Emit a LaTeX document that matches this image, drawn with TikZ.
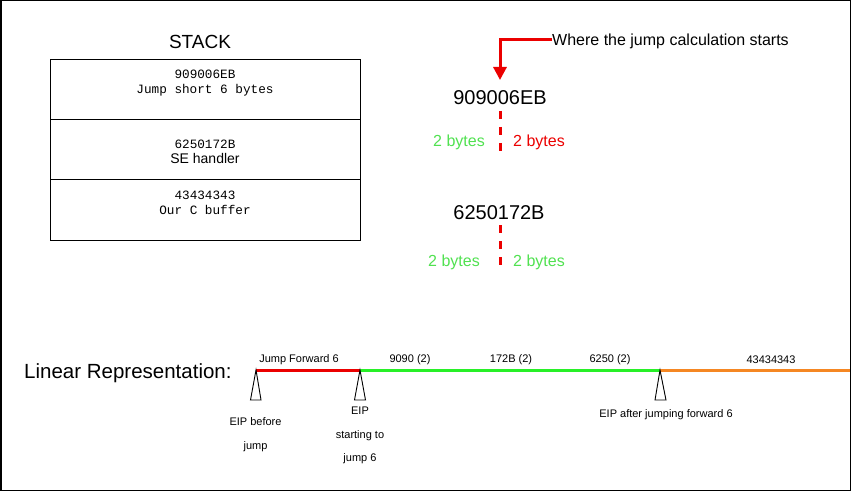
\documentclass[tikz,border=0pt]{standalone}
\usepackage{fontspec}
\setmainfont{Liberation Sans}
\setmonofont{Liberation Mono}
\usetikzlibrary{arrows.meta}
\definecolor{lred}{RGB}{235,0,0}
\definecolor{lgreen}{RGB}{40,240,40}
\definecolor{tgreen}{RGB}{80,225,80}
\definecolor{lorange}{RGB}{245,135,35}
\tikzset{
  fs/.style={font=\fontsize{#1}{#1}\selectfont},
  mono/.style={font=\fontsize{12.7}{15.5}\ttfamily, align=center, inner sep=0pt},
  cell/.style={draw=black, line width=1pt},
  seg/.style={line width=3pt},
  lbl/.style={fs=11, inner sep=0pt},
  eip/.style={draw=black, line width=0.9pt},
  bytes/.style={fs=16, inner sep=0pt},
  dsh/.style={draw=lred, line width=3pt, dash pattern=on 8pt off 8pt},
}
\begin{document}
\begin{tikzpicture}[x=1pt,y=-1pt]
\useasboundingbox (0,0) rectangle (852,492);
\draw[line width=1.5pt] (0.75,0.75) rectangle (850.5,490.5);

% STACK
\node[fs=19, inner sep=0pt] (stack) at (200,42) {STACK};
\draw[cell] (50,60) rectangle (360,240);
\draw[cell] (50,120) -- (360,120);
\draw[cell] (50,180) -- (360,180);
\node[mono] (c1) at (205,83) {909006EB\\Jump short 6 bytes};
\node[inner sep=0pt, align=center] (c2) at (205,152) {{\fontsize{12.7}{12.7}\ttfamily 6250172B}\\[3pt]{\fontsize{14}{14}\selectfont SE handler}};
\node[mono] (c3) at (205,203) {43434343\\Our C buffer};

% right part
\node[fs=20, inner sep=0pt] (h1) at (500,98) {909006EB};
\node[fs=20, inner sep=0pt] (h2) at (499,213) {6250172B};
\node[fs=16, anchor=west, inner sep=0pt] (where) at (552,41) {Where the jump calculation starts};
\coordinate (bend) at (500,40);
\coordinate (tip) at (500,80);
\draw[lred, line width=3pt, line join=miter, -{Triangle[length=13pt,width=13pt]}] (552,40) -- (bend) -- (tip);
\coordinate (d1a) at (500,111);
\coordinate (d1b) at (500,156);
\draw[dsh] (d1a) -- (d1b);
\coordinate (d2a) at (500,225);
\coordinate (d2b) at (500,270);
\draw[dsh] (d2a) -- (d2b);
\node[bytes, text=tgreen] (g1) at (459,142) {2 bytes};
\node[bytes, text=lred] (r1) at (539,142) {2 bytes};
\node[bytes, text=tgreen] (g2) at (454,262) {2 bytes};
\node[bytes, text=tgreen] (g3) at (539,262) {2 bytes};

% linear representation
\node[fs=20.5, anchor=west, inner sep=0pt] (lin) at (24,373) {Linear Representation:};
\coordinate (p0) at (256,370);
\coordinate (p1) at (360,370);
\coordinate (p2) at (460,370);
\coordinate (p3) at (561,370);
\coordinate (p4) at (660,370);
\coordinate (p5) at (850,370);
\draw[seg, lred] (p0) -- (p1);
\draw[seg, lgreen] (p1) -- (p2);
\draw[seg, lgreen] (p2) -- (p3);
\draw[seg, lgreen] (p3) -- (p4);
\draw[seg, lorange] (p4) -- (p5);
\node[lbl] (s1) at (299,360) {Jump Forward 6};
\node[lbl] (s2) at (410,360) {9090 (2)};
\node[lbl] (s3) at (511,360) {172B (2)};
\node[lbl] (s4) at (610,360) {6250 (2)};
\node[lbl] (s5) at (771,360) {43434343};

\draw[eip] (p0) -- (250.5,400) -- (261,400) -- cycle;
\draw[eip] (p1) -- (354.5,400) -- (365.5,400) -- cycle;
\draw[eip] (p4) -- (655,400) -- (666,400) -- cycle;

\node[lbl] (e1a) at (255.5,422) {EIP before};
\node[lbl] (e1b) at (255.5,447) {jump};
\node[lbl] (e2a) at (360,411) {EIP};
\node[lbl] (e2b) at (360,436) {starting to};
\node[lbl] (e2c) at (360,459) {jump 6};
\node[lbl] (e3) at (666,415) {EIP after jumping forward 6};
\end{tikzpicture}
\end{document}
